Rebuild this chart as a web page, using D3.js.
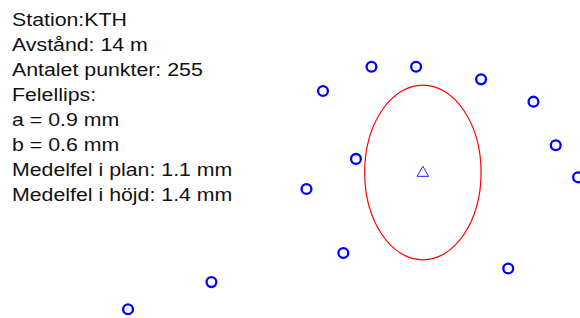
<!DOCTYPE html>
<html>
<head>
<meta charset="utf-8">
<script src="https://cdn.jsdelivr.net/npm/d3@7"></script>
<style>
    body { margin: 0; background: white; }
</style>
</head>
<body>
<div id="chart"></div>
<script>
//info text lines shown top left
var infoLines = ["Station:KTH", "Avstånd: 14 m", "Antalet punkter: 255", "Felellips:",
    "a = 0.9 mm", "b = 0.6 mm", "Medelfel i plan: 1.1 mm", "Medelfel i höjd: 1.4 mm"];
//measured points, offsets from the station in mm (east, north)
var pointX = [-0.53, -0.07, 0.60, -1.03, 1.14, 1.37, -0.69, 1.60, -1.20, -0.82, 0.88, -2.18, -3.04];
var pointY = [1.09, 1.09, 0.96, 0.84, 0.73, 0.28, 0.14, -0.05, -0.17, -0.83, -0.99, -1.13, -1.41];
//station and error ellipse semi axes (mm)
var station = [0, 0];
var ellipseA = 0.9;
var ellipseB = 0.6;

var width = 580, height = 318;

var svgSelection = d3.select("#chart").append("svg")
    .attr("width", width)
    .attr("height", height);

var x = d3.scaleLinear().domain([-4.36, 1.62]).range([0, width]);
var y = d3.scaleLinear().domain([1.778, -1.5]).range([0, height]);

//error ellipse, a along north, b along east
svgSelection.append("ellipse")
    .attr("cx", x(station[0]))
    .attr("cy", y(station[1]))
    .attr("rx", x(ellipseB) - x(0))
    .attr("ry", y(0) - y(ellipseA))
    .attr("fill", "none")
    .attr("stroke", "#ff0000")
    .attr("stroke-width", 1.2);

//station marker
svgSelection.append("path")
    .attr("d", d3.symbol().type(d3.symbolTriangle).size(58))
    .attr("transform", "translate(" + x(station[0]) + "," + (y(station[1]) + 0.5) + ")")
    .attr("fill", "none")
    .attr("stroke", "#2020ff")
    .attr("stroke-width", 1);

//points
svgSelection.selectAll("circle.pt")
    .data(pointX.map(function (d, i) { return [d, pointY[i]]; }))
    .enter().append("circle")
    .attr("class", "pt")
    .attr("cx", function (d) { return x(d[0]); })
    .attr("cy", function (d) { return y(d[1]); })
    .attr("r", 4.9)
    .attr("fill", "none")
    .attr("stroke", "#0000ff")
    .attr("stroke-width", 2.3);

//text block
svgSelection.append("g")
    .attr("transform", "translate(12,0) scale(1.14,1)")
    .selectAll("text")
    .data(infoLines).enter()
    .append("text")
    .attr("x", 0)
    .attr("y", function (d, i) { return 26.5 + i * 25; })
    .attr("font-family", "Liberation Sans, Arial, sans-serif")
    .attr("font-size", 18.7)
    .attr("fill", "#111")
    .text(function (d) { return d; });
</script>
</body>
</html>
